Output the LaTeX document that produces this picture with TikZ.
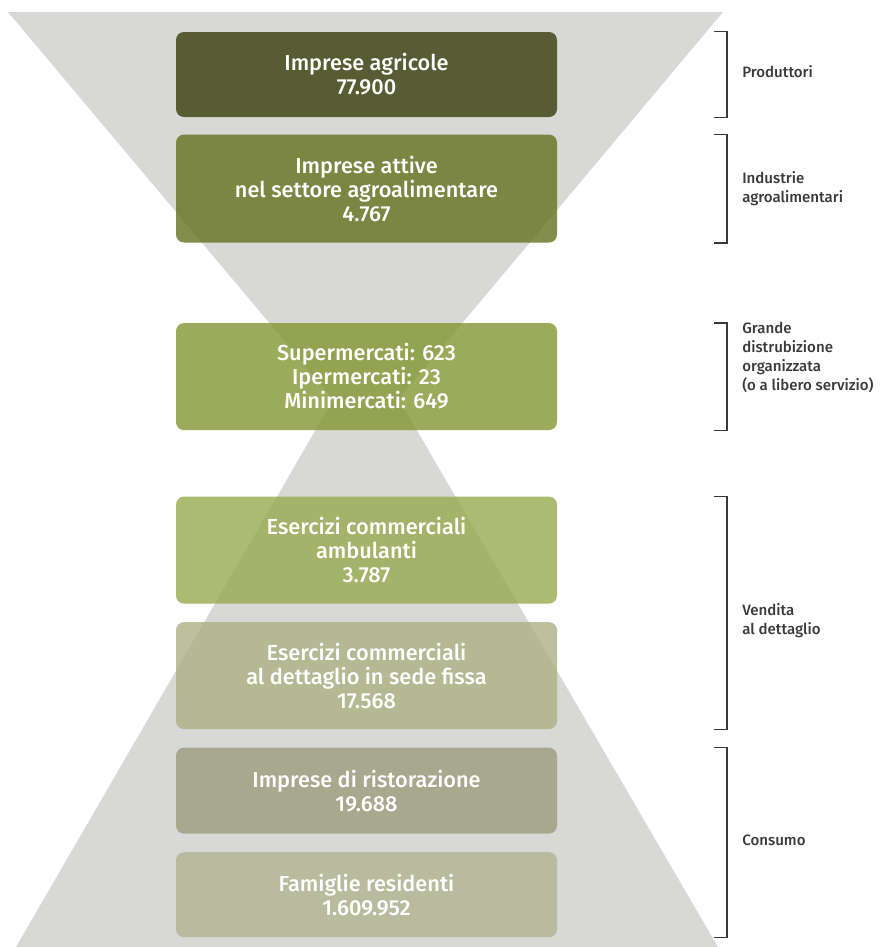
\documentclass[tikz,border=0pt]{standalone}
\usepackage{fontspec}
\setmainfont{Fira Sans}
\newfontfamily\stagefont{Fira Sans Medium}
\usetikzlibrary{positioning}

\definecolor{funnelgray}{HTML}{D8D8D6}
\definecolor{stageA}{HTML}{393E0A}
\definecolor{stageB}{HTML}{65721F}
\definecolor{stageC}{HTML}{829632}
\definecolor{stageD}{HTML}{97A94F}
\definecolor{stageE}{HTML}{ACB083}
\definecolor{stageF}{HTML}{9D9D7D}
\definecolor{stageG}{HTML}{B1B48F}
\definecolor{labelgray}{HTML}{3A3A3A}

\tikzset{
  stage/.style={rounded corners=6pt, fill opacity=0.8, text opacity=1,
    text=white, minimum width=285.75pt, inner sep=0pt, align=center,
    font=\stagefont\fontsize{16.3}{18}\selectfont},
  tag/.style={anchor=west, align=left, text=labelgray, inner sep=0pt,
    font=\stagefont\fontsize{11.3}{14.25}\selectfont},
  brace/.style={draw=labelgray, line width=1.1pt}
}

\begin{document}
\begin{tikzpicture}[x=0.75pt, y=-0.75pt]
    \useasboundingbox (0,0) rectangle (882,947);
    % hourglass background
    \fill[funnelgray] (8,12) -- (723,12) -- (366,438) -- cycle;
    \fill[funnelgray] (366,343) -- (718,947) -- (16,947) -- cycle;

    % stages of the chain
    \node[stage, fill=stageA, minimum height=63.75pt] (agri) at (366.5,74.5)
        {Imprese agricole\\77.900};
    \node[stage, fill=stageB, minimum height=81pt, below=12.75pt of agri] (indu)
        {Imprese attive\\nel settore agroalimentare\\4.767};
    \node[stage, fill=stageC, minimum height=80.25pt, below=60pt of indu] (gdo)
        {Supermercati: 623\\Ipermercati: 23\\Minimercati: 649};
    \node[stage, fill=stageD, minimum height=80.25pt, below=49.5pt of gdo] (ambu)
        {Esercizi commerciali\\ambulanti\\3.787};
    \node[stage, fill=stageE, minimum height=80.25pt, below=13.5pt of ambu] (fissa)
        {Esercizi commerciali\\al dettaglio in sede fissa\\17.568};
    \node[stage, fill=stageF, minimum height=64.5pt, below=13.5pt of fissa] (risto)
        {Imprese di ristorazione\\19.688};
    \node[stage, fill=stageG, minimum height=63.75pt, below=13.5pt of risto] (fam)
        {Famiglie residenti\\1.609.952};

    % brackets on the right
    \coordinate (bk) at (727,0);
    \coordinate (tk) at (714,0);
    \draw[brace] (tk |- agri.north) -- (bk |- agri.north) -- (bk |- agri.south) -- (tk |- agri.south);
    \draw[brace] (tk |- indu.north) -- (bk |- indu.north) -- (bk |- indu.south) -- (tk |- indu.south);
    \draw[brace] (tk |- gdo.north) -- (bk |- gdo.north) -- (bk |- gdo.south) -- (tk |- gdo.south);
    \draw[brace] (tk |- ambu.north) -- (bk |- ambu.north) -- (bk |- fissa.south) -- (tk |- fissa.south);
    \draw[brace] (tk |- risto.north) -- (bk |- risto.north) -- (bk |- fam.south) -- (tk |- fam.south);

    \node[tag] (prod) at (742,72) {Produttori};
    \node[tag] (ind) at (742,189) {Industrie\\agroalimentari};
    \node[tag] (gd) at (742,357) {Grande\\distrubizione\\organizzata\\(o a libero servizio)};
    \node[tag] (vend) at (742,621) {Vendita\\al dettaglio};
    \node[tag] (cons) at (742,840) {Consumo};
\end{tikzpicture}
\end{document}
